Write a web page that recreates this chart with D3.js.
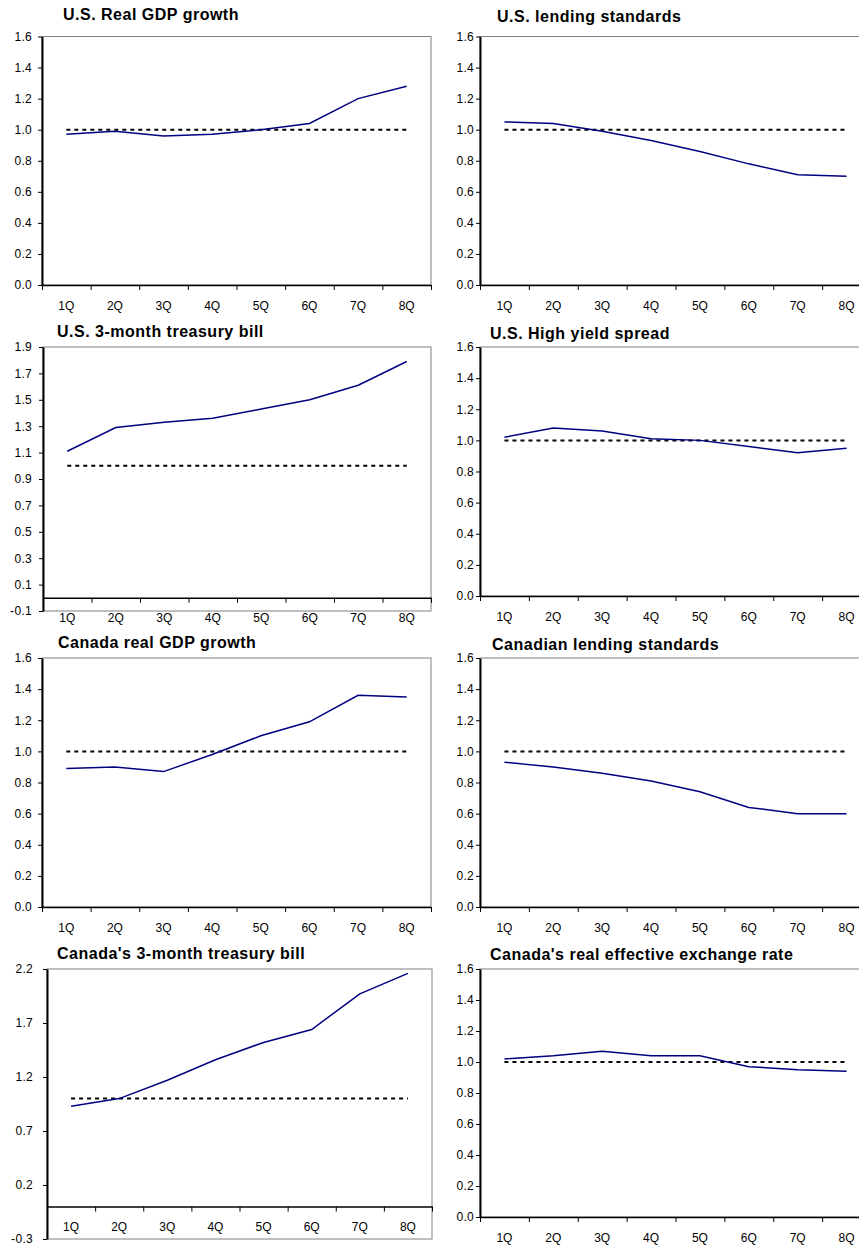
<!DOCTYPE html>
<html>
<head>
<meta charset="utf-8">
<script src="https://cdn.jsdelivr.net/npm/d3@7"></script>
<style>
    body { margin: 0; background: #fff; overflow: hidden; }
    svg text { font-family: "Liberation Sans", Arial, sans-serif; fill: #000; }
</style>
</head>
<body>
<div id="chart"></div>
<script>

// ---- data ----
const quarters = ["1Q", "2Q", "3Q", "4Q", "5Q", "6Q", "7Q", "8Q"];

const usGdp       = [0.97, 0.99, 0.96, 0.97, 1.00, 1.04, 1.20, 1.28];
const usLending   = [1.05, 1.04, 0.99, 0.93, 0.86, 0.78, 0.71, 0.70];
const usTbill     = [1.11, 1.29, 1.33, 1.36, 1.43, 1.50, 1.61, 1.79];
const usHighYield = [1.02, 1.08, 1.06, 1.01, 1.00, 0.96, 0.92, 0.95];
const caGdp       = [0.89, 0.90, 0.87, 0.98, 1.10, 1.19, 1.36, 1.35];
const caLending   = [0.93, 0.90, 0.86, 0.81, 0.74, 0.64, 0.60, 0.60];
const caTbill     = [0.93, 1.00, 1.17, 1.36, 1.52, 1.64, 1.97, 2.16];
const caReer      = [1.02, 1.04, 1.07, 1.04, 1.04, 0.97, 0.95, 0.94];

// the dotted reference level
const baseline = 1.0;

// y tick labels
const ticksStd     = [0.0, 0.2, 0.4, 0.6, 0.8, 1.0, 1.2, 1.4, 1.6];
const ticksUsTbill = [-0.1, 0.1, 0.3, 0.5, 0.7, 0.9, 1.1, 1.3, 1.5, 1.7, 1.9];
const ticksCaTbill = [-0.3, 0.2, 0.7, 1.2, 1.7, 2.2];

const titles = [
    "U.S. Real GDP growth", "U.S. lending standards",
    "U.S. 3-month treasury bill", "U.S. High yield spread",
    "Canada real GDP growth", "Canadian lending standards",
    "Canada's 3-month treasury bill", "Canada's real effective exchange rate"
];

const series = [usGdp, usLending, usTbill, usHighYield, caGdp, caLending, caTbill, caReer];
const tickSets = [ticksStd, ticksStd, ticksUsTbill, ticksStd, ticksStd, ticksStd, ticksCaTbill, ticksStd];


class LinePanel {

    constructor(_svg, values, ticks, title, box) {
        this.svg = _svg;
        this.values = values;
        this.ticks = ticks;
        this.title = title;
        this.box = box;

        this.initVis();
    }

    initVis() {
        let vis = this;
        let b = vis.box;

        vis.g = vis.svg.append("g");

        vis.x = d3.scaleBand()
            .domain(quarters)
            .range([b.left, b.right]);

        vis.y = d3.scaleLinear()
            .domain(d3.extent(vis.ticks))
            .range([b.bottom, b.top]);

        // plot area frame (grey)
        vis.g.append("rect")
            .attr("x", b.left)
            .attr("y", b.top)
            .attr("width", b.right - b.left)
            .attr("height", b.bottom - b.top)
            .attr("fill", "none")
            .attr("stroke", "#808080")
            .attr("stroke-width", 1);

        // y axis
        let yAxis = d3.axisLeft(vis.y)
            .tickValues(vis.ticks)
            .tickFormat(d => d.toFixed(1))
            .tickSize(4)
            .tickSizeOuter(0)
            .tickPadding(b.left - b.labelRight - 4);

        let yg = vis.g.append("g")
            .attr("transform", `translate(${b.left},0)`)
            .call(yAxis);
        yg.select(".domain").attr("stroke", "#000").attr("stroke-width", 2);
        yg.selectAll(".tick line").attr("stroke", "#000");
        yg.selectAll("text")
            .attr("font-size", "12px")
            .style("letter-spacing", "0.3px")
            .attr("fill", "#000");

        // x axis sits on zero, ticks between categories
        let y0 = vis.y(0);
        let boundary = d3.scaleLinear().domain([0, quarters.length]).range([b.left, b.right]);

        let xg = vis.g.append("g")
            .attr("transform", `translate(0,${y0})`)
            .call(d3.axisBottom(boundary)
                .ticks(quarters.length)
                .tickFormat("")
                .tickSize(5)
                .tickSizeOuter(0));
        xg.select(".domain").attr("stroke", "#000").attr("stroke-width", 1.5);
        xg.selectAll(".tick line").attr("stroke", "#000");

        let lg = vis.g.append("g")
            .attr("transform", `translate(0,${y0})`)
            .call(d3.axisBottom(vis.x).tickSize(0).tickPadding(16));
        lg.select(".domain").remove();
        lg.selectAll("text")
            .attr("font-size", "12px")
            .attr("fill", "#000");

        let cx = q => vis.x(q) + vis.x.bandwidth() / 2;

        // dotted reference at 1.0
        vis.g.append("path")
            .datum([quarters[0], quarters[quarters.length - 1]])
            .attr("fill", "none")
            .attr("stroke", "#000")
            .attr("stroke-width", 2)
            .attr("stroke-dasharray", "4,4")
            .attr("d", d3.line().x(d => cx(d)).y(() => vis.y(baseline)));

        // the series
        vis.g.append("path")
            .datum(vis.values)
            .attr("fill", "none")
            .attr("stroke", "#000080")
            .attr("stroke-width", 1.5)
            .attr("d", d3.line()
                .x((d, i) => cx(quarters[i]))
                .y(d => vis.y(d)));

        // title
        vis.g.append("text")
            .attr("x", b.titleX)
            .attr("y", b.titleY)
            .attr("font-size", "16px")
            .attr("font-weight", "bold")
            .style("letter-spacing", "0.5px")
            .text(vis.title);
    }
}


// panel boxes (layout only)
const boxes = [
    {left: 42, right: 431, top: 36.5, bottom: 285,  labelRight: 32,  titleX: 63,  titleY: 20},
    {left: 480, right: 871, top: 36.5, bottom: 285, labelRight: 474, titleX: 497, titleY: 21.5},
    {left: 43, right: 431, top: 347, bottom: 611,   labelRight: 32,  titleX: 57,  titleY: 337},
    {left: 480, right: 871, top: 347, bottom: 596,  labelRight: 474, titleX: 490, titleY: 339},
    {left: 42, right: 431, top: 658, bottom: 907,   labelRight: 32,  titleX: 58,  titleY: 648},
    {left: 480, right: 871, top: 658, bottom: 907,  labelRight: 474, titleX: 492, titleY: 650},
    {left: 47, right: 432, top: 969, bottom: 1239,  labelRight: 33,  titleX: 57,  titleY: 959},
    {left: 480, right: 871, top: 969, bottom: 1217, labelRight: 474, titleX: 490, titleY: 960}
];

let svg = d3.select("#chart").append("svg")
    .attr("width", 859)
    .attr("height", 1247);

let panels = [];
series.forEach((s, i) => {
    panels.push(new LinePanel(svg, s, tickSets[i], titles[i], boxes[i]));
});

</script>
</body>
</html>
